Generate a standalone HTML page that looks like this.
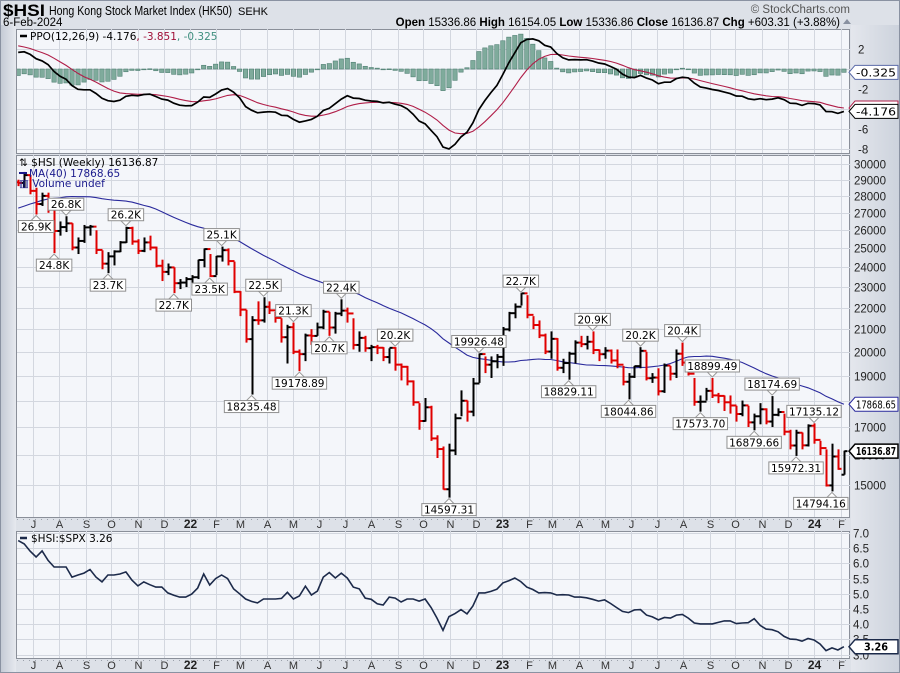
<!DOCTYPE html>
<html><head><meta charset="utf-8">
<style>
html,body{margin:0;padding:0;background:#dde1e8;}
svg{display:block;font-family:"Liberation Sans",sans-serif;}
</style></head>
<body>
<svg id="chart" width="900" height="673" viewBox="0 0 900 673" xmlns="http://www.w3.org/2000/svg">
<defs>
<linearGradient id="lg" x1="0" x2="1" y1="0" y2="0"><stop offset="0" stop-color="#c3c9d4"/><stop offset="1" stop-color="#e6e9ef"/></linearGradient>
<linearGradient id="rg" x1="0" x2="1" y1="0" y2="0"><stop offset="0" stop-color="#e4e7ed"/><stop offset="1" stop-color="#ccd2dc"/></linearGradient>
<clipPath id="cpP"><rect x="17" y="29" width="833" height="124"/></clipPath>
<clipPath id="cpM"><rect x="17" y="155" width="833" height="362"/></clipPath>
<clipPath id="cpB"><rect x="17" y="531" width="833" height="127"/></clipPath>
</defs>
<rect x="0" y="0" width="900" height="673" fill="#dde1e8"/>
<rect x="0" y="25" width="16" height="648" fill="url(#lg)"/>
<rect x="851" y="25" width="49" height="648" fill="url(#rg)"/>
<rect x="0.5" y="0.5" width="899" height="672" fill="none" stroke="#8a92a2"/>
<text x="3" y="16" font-size="17" font-weight="bold" fill="#000" textLength="42" lengthAdjust="spacingAndGlyphs">$HSI</text>
<text x="49" y="15" font-size="12.5" fill="#000" textLength="183" lengthAdjust="spacingAndGlyphs">Hong Kong Stock Market Index (HK50)</text>
<text x="238" y="15" font-size="11" fill="#000">SEHK</text>
<text x="3" y="26" font-size="11.5" fill="#000">6-Feb-2024</text>
<text x="850" y="13" font-size="11.5" fill="#555" text-anchor="end">© StockCharts.com</text>
<text x="840" y="26" font-size="11.5" text-anchor="end"><tspan font-weight="bold">Open</tspan> 15336.86 <tspan font-weight="bold">High</tspan> 16154.05 <tspan font-weight="bold">Low</tspan> 15336.86 <tspan font-weight="bold">Close</tspan> 16136.87 <tspan font-weight="bold">Chg</tspan> +603.31 (+3.88%)</text>
<polygon points="843,24 851,24 847,19" fill="#8890a0"/>
<rect x="16.5" y="29.5" width="833" height="124" fill="#f4f6fa" stroke="#8a8f99"/>
<rect x="16.5" y="155.5" width="833" height="362" fill="#f4f6fa" stroke="#8a8f99"/>
<rect x="16.5" y="531.5" width="833" height="127" fill="#f4f6fa" stroke="#8a8f99"/>
<g id="grid"></g>
<g id="ppoG" clip-path="url(#cpP)"></g>
<g id="mainG" clip-path="url(#cpM)"></g>
<g id="ratioG" clip-path="url(#cpB)"></g>
<g id="axes"></g>
<g id="legends" font-family="DejaVu Sans, sans-serif" font-size="10.5">
<line x1="20" y1="36" x2="27" y2="36" stroke="#000" stroke-width="2.5"/>
<text x="30" y="40"><tspan fill="#000">PPO(12,26,9) -4.176</tspan><tspan fill="#a01038">, -3.851</tspan><tspan fill="#3f8f7f">, -0.325</tspan></text>
<text x="19" y="166" fill="#000">⇅ $HSI (Weekly) 16136.87</text>
<line x1="19" y1="173" x2="27" y2="173" stroke="#1a1a8c" stroke-width="2"/>
<text x="29" y="177" fill="#1a1a8c">MA(40) 17868.65</text>
<text x="19" y="187" fill="#1a1a8c">▥ Volume undef</text>
<line x1="20" y1="538" x2="27" y2="538" stroke="#1c2a4a" stroke-width="2.5"/>
<text x="31" y="542" fill="#000">$HSI:$SPX 3.26</text>
</g>
<g id="tags" font-family="DejaVu Sans, sans-serif" font-size="10.5"></g>
</svg>
<script>
// ---- data ----
const preCloses=[24455,23311,23459,23311,24119,24386,24918,24107,24325,25712,26157,26452,26894,26836,26507,26506,26386,27231,27878,28573,29447,28284,29289,30173,30644,29718,28980,29098,28740,28885,28336,28939,28969,28469,28610,28013,28725,28458,28842];
const closes=[28801,29288,28310,27515,28004,27321,25961,26179,26391,25050,25408,26163,26205,24920,24192,24575,24837,25330,26126,25377,24870,25327,25049,24080,23767,23996,23192,23223,23398,23493,24383,24965,23550,24573,24906,24327,22767,21905,20554,21412,21404,22039,21872,21518,20638,21089,20001,19898,20717,20697,21082,21806,21075,21719,21859,21725,20297,20609,20156,20201,20175,19773,20170,19452,19362,18761,17933,17223,17740,16587,16211,14863,16161,17326,17993,17573,18675,19900,19450,19593,19781,20991,21738,22044,22689,21660,21190,20719,20010,20567,19320,19519,19916,20400,20331,20438,20075,19895,20049,19628,19450,18746,18950,19389,20040,18890,18916,18365,19413,19075,19916,19539,19075,17950,17956,18382,18202,18182,17933,17810,17485,17813,17172,17399,17664,17203,17454,17560,16830,16335,16792,16341,17047,16535,16245,14986,15952,15533,16136.87];
const opens=[28842,28801,29288,28310,27515,28004,27321,25961,26179,26391,25050,25408,26163,26205,24920,24192,24575,24837,25330,26126,25377,24870,25327,25049,24080,23767,23996,23192,23223,23398,23493,24383,24965,23550,24573,24906,24327,22767,21905,20554,21412,21404,22039,21872,21518,20638,21089,20001,19898,20717,20697,21082,21806,21075,21719,21859,21725,20297,20609,20156,20201,20175,19773,20170,19452,19362,18761,17933,17223,17740,16587,16211,14863,16161,17326,17993,17573,18675,19900,19450,19593,19781,20991,21738,22044,22689,21660,21190,20719,20010,20567,19320,19519,19916,20400,20331,20438,20075,19895,20049,19628,19450,18746,18950,19389,20040,18890,18916,18365,19413,19075,19916,19539,19075,17950,17956,18382,18202,18182,17933,17810,17485,17813,17172,17399,17664,17203,17454,17560,16830,16335,16792,16341,17047,16535,16245,14986,15952,15336.86];
const highs=[29000,29490,29300,28500,28200,28200,27400,26500,26800,26400,25600,26300,26300,26000,24900,24800,24900,25400,26200,26200,25500,25600,25700,25100,24400,24200,24000,23400,23500,23600,24400,25000,24700,24600,25100,25000,24300,22800,21900,21600,22300,22500,22300,21800,21500,21200,21300,20100,20800,21000,21300,21900,21800,21800,22400,22000,21500,20900,20700,20300,20300,20200,20150,20200,19500,19400,18800,17900,18100,17800,16700,16300,16400,17500,18400,18000,18900,19926,19800,19800,19900,21100,21800,22200,22700,22600,21600,21400,20800,20900,20600,19700,20000,20500,20700,20700,20900,20100,20200,20100,20100,19400,19100,19400,20200,20000,19100,19300,19500,19400,20100,20400,19600,18900,18200,18500,18899,18300,18200,18200,17800,18000,17800,17500,17900,17700,18175,17700,17500,16900,16900,16800,17100,17135,16500,16200,16400,16200,16154];
const lows=[28600,28500,28100,26900,27400,27000,24748,25700,25900,24900,24700,25300,25700,24700,23900,23700,24100,24800,25300,25200,24700,24800,24900,24000,23300,23600,22700,22900,23000,23000,23400,24000,23500,23600,24300,24100,22700,21600,20400,18235,21200,21300,21700,21300,20400,19500,19900,19179,19600,20300,20700,21000,20700,20800,21600,21300,20100,20000,20000,19600,19900,19600,19500,19200,18800,18600,17800,16900,17200,16500,15900,14850,14597,16000,17400,17200,17400,18700,19100,18900,19300,19400,20900,21500,22100,21500,21000,20600,19900,19700,19200,19100,18829,19500,20200,20100,19900,19600,19700,19500,19300,18600,18045,18900,19300,18800,18700,18200,18300,18800,18900,19400,19000,17800,17574,18000,18100,17900,17600,17500,17200,17400,17000,16880,17100,17100,17000,17400,16700,16200,15972,16200,16300,16400,16000,14950,14794,15500,15337];
const ratioValues=[6.75,6.64,6.4,6.21,6.41,6.1,5.88,5.88,5.88,5.55,5.62,5.68,5.8,5.55,5.39,5.62,5.62,5.65,5.72,5.45,5.26,5.39,5.3,5.22,5.22,5.03,4.95,4.89,4.89,4.99,5.19,5.65,5.29,5.5,5.62,5.5,5.16,5.0,4.83,4.75,4.70,4.83,4.83,4.83,4.85,5.05,4.83,4.93,5.25,4.96,5.09,5.55,5.7,5.52,5.68,5.52,5.22,5.16,4.86,4.82,4.67,4.63,4.89,4.86,4.73,4.83,4.83,4.76,4.83,4.55,4.2,3.8,4.25,4.35,4.48,4.34,4.6,5.03,5.03,5.08,5.15,5.36,5.43,5.52,5.4,5.22,5.14,5.03,5.04,5.03,4.96,4.97,4.96,4.89,4.89,4.87,4.82,4.76,4.8,4.68,4.55,4.42,4.38,4.47,4.48,4.3,4.24,4.14,4.22,4.2,4.3,4.32,4.2,4.04,4.01,4.01,4.01,4.06,4.11,4.11,4.02,4.04,4.05,4.18,3.96,3.84,3.82,3.75,3.6,3.51,3.5,3.44,3.53,3.48,3.35,3.13,3.22,3.15,3.26];
const annotations=[[3,'L','26.9K'],[8,'H','26.8K'],[6,'L','24.8K'],[18,'H','26.2K'],[15,'L','23.7K'],[26,'L','22.7K'],[32,'L','23.5K'],[34,'H','25.1K'],[39,'L','18235.48'],[41,'H','22.5K'],[46,'H','21.3K'],[47,'L','19178.89'],[52,'L','20.7K'],[54,'H','22.4K'],[63,'H','20.2K'],[72,'L','14597.31'],[77,'H','19926.48'],[84,'H','22.7K'],[92,'L','18829.11'],[96,'H','20.9K'],[102,'L','18044.86'],[104,'H','20.2K'],[111,'H','20.4K'],[114,'L','17573.70'],[116,'H','18899.49'],[123,'L','16879.66'],[126,'H','18174.69'],[130,'L','15972.31'],[133,'H','17135.12'],[136,'L','14794.16']];
const priceTicks=[15000,16000,17000,18000,19000,20000,21000,22000,23000,24000,25000,26000,27000,28000,29000,30000];
const ppoTicks=[2,0,-2,-4,-6,-8];
const ratioTicks=[3.0,3.5,4.0,4.5,5.0,5.5,6.0,6.5,7.0];
const monthLabels=['J','A','S','O','N','D','22','F','M','A','M','J','J','A','S','O','N','D','23','F','M','A','M','J','J','A','S','O','N','D','24','F'];

// ---- scales ----
const NS='http://www.w3.org/2000/svg';
const DAYPX=0.8548, X2022=190;
const firstBarDay=-201;
function xBar(i){return X2022+(firstBarDay+7*i)*DAYPX;}
function xDay(d){return X2022+d*DAYPX;}
function yMain(v){return 164+463.1*Math.log(30000/v);}
function yPPO(v){return 69-10*v;}
function yRatio(v){return 533+(7-v)*30.4;}
function mk(tag,attrs,parent){const e=document.createElementNS(NS,tag);for(const k in attrs)e.setAttribute(k,attrs[k]);parent.appendChild(e);return e;}

const grid=document.getElementById('grid');
const axes=document.getElementById('axes');
const ppoG=document.getElementById('ppoG');
const mainG=document.getElementById('mainG');
const ratioG=document.getElementById('ratioG');
const tags=document.getElementById('tags');

const monthDays=[];
for(let k=0;k<monthLabels.length;k++){
  const d=new Date(Date.UTC(2021,6+k,1));
  monthDays.push((d-Date.UTC(2022,0,1))/86400000);
}
monthDays.forEach((d,k)=>{
  const x=Math.round(xDay(d))+0.5;
  [[29,153],[155,517],[531,658]].forEach(([a,b])=>{
    const l=mk('line',{x1:x,x2:x,y1:a,y2:b,stroke:'#d3d7df','stroke-width':1},grid);
    
    
  });
  const yr=monthLabels[k].length>1;
  [528,669].forEach(y=>{
    const t=mk('text',{x:x,y:y,'text-anchor':'middle','font-size':yr?12:11,'font-weight':yr?'bold':'normal',fill:yr?'#222':'#333'},axes);
    t.textContent=monthLabels[k];
    
    
  });
});
[[518,'x-axis-ticks-top'],[659,'x-axis-ticks-bottom']].forEach(([y,n])=>{
  const l=mk('line',{x1:17,x2:850,y1:y+1.5,y2:y+1.5,stroke:'#9aa0aa','stroke-dasharray':'1,5'},axes);
  
  
});
priceTicks.forEach(v=>{
  const y=Math.round(yMain(v))+0.5;
  const l=mk('line',{x1:17,x2:850,y1:y,y2:y,stroke:'#d3d7df'},grid);
  
  
  const t=mk('text',{x:854,y:y+4,'font-size':11.5,fill:'#222'},axes);
  t.textContent=v;
  
  
});
ppoTicks.forEach(v=>{
  const y=Math.round(yPPO(v))+0.5;
  const l=mk('line',{x1:17,x2:850,y1:y,y2:y,stroke:'#d3d7df'},grid);
  
  
  if(v!==0){
    const t=mk('text',{x:858,y:y+4,'font-size':11.5,fill:'#222'},axes);
    t.textContent=v;
    
    
  }
});
ratioTicks.forEach(v=>{
  const y=Math.round(yRatio(v))+0.5;
  const l=mk('line',{x1:17,x2:850,y1:y,y2:y,stroke:'#d3d7df'},grid);
  
  
  const t=mk('text',{x:853,y:y+4,'font-size':11.5,fill:'#222'},axes);
  t.textContent=v.toFixed(1);
  
  
});

// ---- indicators ----
const all=preCloses.concat(closes);
const off=preCloses.length;
function ema(arr,n){const k=2/(n+1);const out=[];let e=arr[0];for(let i=0;i<arr.length;i++){e=i?arr[i]*k+e*(1-k):arr[i];out.push(e);}return out;}
const e12=ema(all,12),e26=ema(all,26);
const ppo=all.map((v,i)=>(e12[i]-e26[i])/e26[i]*100);
const sig=ema(ppo,9);
const ma=closes.map((v,i)=>{let s=0;for(let j=i+off-39;j<=i+off;j++)s+=all[j];return s/40;});

closes.forEach((c,i)=>{
  const h=ppo[i+off]-sig[i+off];
  const y0=yPPO(0),y1=yPPO(h);
  const r=mk('rect',{x:xBar(i)-2.2,y:Math.min(y0,y1),width:4.4,height:Math.max(0.8,Math.abs(y1-y0)),fill:'#7fab9c',stroke:'#4f7f72','stroke-width':0.6},ppoG);
  
  
});
function path(vals,xf,yf){return vals.map((v,i)=>(i?'L':'M')+xf(i).toFixed(1)+','+yf(v).toFixed(1)).join('');}
const sigLine=mk('path',{d:path(closes.map((c,i)=>sig[i+off]),xBar,yPPO),fill:'none',stroke:'#b01e48','stroke-width':1.1},ppoG);


const ppoLine=mk('path',{d:path(closes.map((c,i)=>ppo[i+off]),xBar,yPPO),fill:'none',stroke:'#000','stroke-width':1.7},ppoG);



const maLine=mk('path',{d:path(ma,xBar,yMain),fill:'none',stroke:'#2a2a9c','stroke-width':1.1},mainG);



closes.forEach((c,i)=>{
  const prev=i?closes[i-1]:opens[0];
  const col=c<prev?'#e00000':'#000';
  const x=Math.round(xBar(i))+0.5;
  const g=mk('g',{stroke:col,'stroke-width':2},mainG);
  
  
  mk('line',{x1:x,x2:x,y1:yMain(highs[i]),y2:yMain(lows[i])},g);
  mk('line',{x1:x-3,x2:x,y1:yMain(opens[i]),y2:yMain(opens[i])},g);
  mk('line',{x1:x,x2:x+3,y1:yMain(c),y2:yMain(c)},g);
});

annotations.forEach(([i,t,txt])=>{
  const x=xBar(i);
  const w=txt.length*6.3+4;
  const bx=Math.min(x-w/2,848-w);
  const g=mk('g',{},mainG);
  
  
  let by;
  if(t==='H'){const yt=yMain(highs[i])-1;by=yt-17;mk('polygon',{points:`${x-5},${yt-5} ${x+5},${yt-5} ${x},${yt}`,fill:'#fff',stroke:'#999'},g);}
  else{const yt=yMain(lows[i])+1;by=yt+5;mk('polygon',{points:`${x-5},${yt+5} ${x+5},${yt+5} ${x},${yt}`,fill:'#fff',stroke:'#999'},g);}
  mk('rect',{x:bx,y:by,width:w,height:12,fill:'#fff',stroke:'#909090'},g);
  const tx=mk('text',{x:bx+w/2,y:by+10,'text-anchor':'middle','font-size':10.5,'font-family':'DejaVu Sans, sans-serif',fill:'#000'},g);
  tx.textContent=txt;
});

const rLine=mk('path',{d:path(ratioValues,xBar,yRatio),fill:'none',stroke:'#1c2a4a','stroke-width':1.6},ratioG);



function tag(y,txt,border,bold,name){
  const g=mk('g',{},tags);
  
  
  mk('polygon',{points:`849,${y} 855,${y-7} 898,${y-7} 898,${y+7} 855,${y+7}`,fill:'#fff',stroke:border,'stroke-width':bold?1.5:1},g);
  const tl=txt.length>5?40:(txt.length>4?32:24);
  const t=mk('text',{x:876,y:y+4,'text-anchor':'middle','font-weight':bold?'bold':'normal','font-size':10.5,fill:'#000',textLength:tl,lengthAdjust:'spacingAndGlyphs'},g);
  t.textContent=txt;
}
const L=closes.length-1;
tag(yPPO(sig[L+off]),'-3.851','#b01e48',false,'ppo-signal-tag');
tag(yPPO(ppo[L+off]-sig[L+off]),'-0.325','#5a6aa8',false,'ppo-histogram-tag');
tag(yPPO(ppo[L+off]),'-4.176','#000',false,'ppo-value-tag');
tag(yMain(ma[L]),'17868.65','#2a2a9c',false,'ma40-value-tag');
tag(yMain(closes[L]),'16136.87','#000',true,'last-price-tag');
tag(yRatio(ratioValues[L]),'3.26','#1c2a4a',true,'ratio-value-tag');
</script>
</body></html>
